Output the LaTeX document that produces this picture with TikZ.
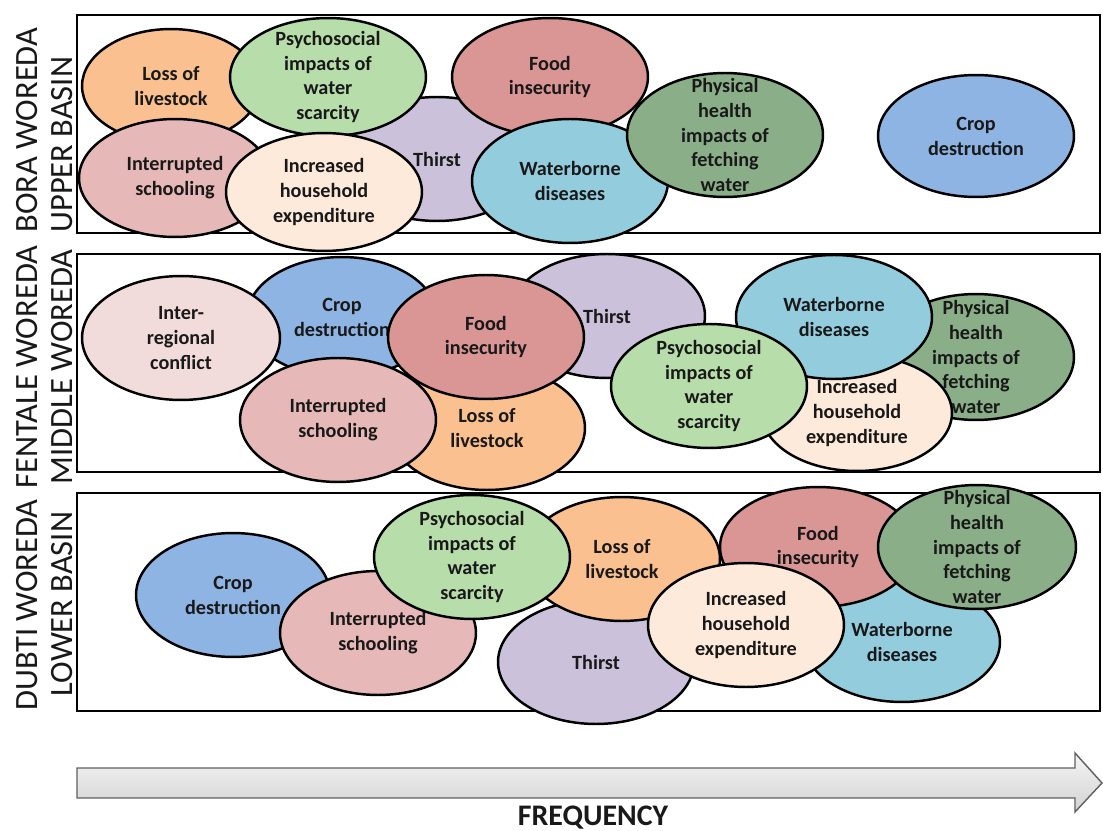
\documentclass[tikz,border=0pt]{standalone}
\usepackage{fontspec}
\setmainfont{Carlito}
\usetikzlibrary{shapes.geometric, positioning}

\definecolor{cLoss}{RGB}{250,192,143}
\definecolor{cPsych}{RGB}{183,222,170}
\definecolor{cFood}{RGB}{217,150,148}
\definecolor{cThirst}{RGB}{204,193,218}
\definecolor{cSchool}{RGB}{230,185,184}
\definecolor{cExpend}{RGB}{253,234,218}
\definecolor{cWater}{RGB}{147,205,221}
\definecolor{cPhys}{RGB}{138,175,136}
\definecolor{cCrop}{RGB}{142,180,227}
\definecolor{cConflict}{RGB}{242,220,219}

\begin{document}
\begin{tikzpicture}[
    x=0.02cm, y=-0.02cm,
    bubble/.style={ellipse, draw=black, line width=1.4pt, align=center,
      inner xsep=0pt, inner ysep=-24pt, text=black!90,
      minimum width=3.92cm, minimum height=2.48cm,
      font=\fontsize{11.5}{14.2}\selectfont\bfseries},
    size/.style 2 args={minimum width=#1*0.04cm, minimum height=#2*0.04cm},
    panel/.style={draw=black, line width=1.6pt},
    region/.style={font=\fontsize{18.5}{22}\selectfont, text=black!90, inner sep=0pt},
    freqarrow/.style={draw=gray!75!black, line width=0.8pt, top color=gray!8, bottom color=gray!35}
  ]
  \useasboundingbox (0,0) rectangle (1103,831);

  % panels
  \draw[panel] (77,15) rectangle (1100,233);
  \draw[panel] (77,254) rectangle (1100,472);
  \draw[panel] (77,493) rectangle (1100,711);

  \node[region, rotate=90, anchor=west] (boraA) at (27,233) {BORA WOREDA};
  \node[region, rotate=90, anchor=west] (boraB) at (62,233) {UPPER BASIN};
  \node[region, rotate=90] (fentA) at (27,367) {FENTALE WOREDA};
  \node[region, rotate=90] (fentB) at (62,367) {MIDDLE WOREDA};
  \node[region, rotate=90] (dubA) at (27,605) {DUBTI WOREDA};
  \node[region, rotate=90] (dubB) at (62,604) {LOWER BASIN};

  % upper basin
  \node[bubble, fill=cThirst] (upThirst) at (437,159) {Thirst};
  \node[bubble, fill=cLoss, size={89}{57}] (upLoss) at (171,86) {Loss of\\livestock};
  \node[bubble, fill=cPsych, size={98}{59}] (upPsych) at (328,77) {Psychosocial\\impacts of\\water\\scarcity};
  \node[bubble, fill=cSchool, size={96}{59}] (upSchool) at (175,178) {Interrupted\\schooling};
  \node[bubble, fill=cExpend, size={98}{59}] (upExpend) at (324,192) {Increased\\household\\expenditure};
  \node[bubble, fill=cFood, size={98}{59}] (upFood) at (550,77) {Food\\insecurity};
  \node[bubble, fill=cWater] (upWater) at (570,181) {Waterborne\\diseases};
  \node[bubble, fill=cPhys] (upPhys) at (725,135) {Physical\\health\\impacts of\\fetching\\water};
  \node[bubble, fill=cCrop, size={98}{61}] (upCrop) at (976,136) {Crop\\destruction};

  % middle woreda
  \node[bubble, fill=cPhys, size={98}{63}] (midPhys) at (976,357) {Physical\\health\\impacts of\\fetching\\water};
  \node[bubble, fill=cThirst] (midThirst) at (607,316) {Thirst};
  \node[bubble, fill=cCrop, size={95}{60}] (midCrop) at (342,317) {Crop\\destruction};
  \node[bubble, fill=cConflict, size={99}{62}] (midConflict) at (181,338) {Inter-\\regional\\conflict};
  \node[bubble, fill=cLoss] (midLoss) at (487,428) {Loss of\\livestock};
  \node[bubble, fill=cSchool] (midSchool) at (338,420) {Interrupted\\schooling};
  \node[bubble, fill=cFood] (midFood) at (486,337) {Food\\insecurity};
  \node[bubble, fill=cExpend, size={95}{58}] (midExpend) at (857,413) {Increased\\household\\expenditure};
  \node[bubble, fill=cWater] (midWater) at (834,317) {Waterborne\\diseases};
  \node[bubble, fill=cPsych] (midPsych) at (709,386) {Psychosocial\\impacts of\\water\\scarcity};

  % lower basin
  \node[bubble, fill=cCrop, size={97}{62}] (lowCrop) at (233,595) {Crop\\destruction};
  \node[bubble, fill=cSchool] (lowSchool) at (378,633) {Interrupted\\schooling};
  \node[bubble, fill=cThirst] (lowThirst) at (596,662) {Thirst};
  \node[bubble, fill=cLoss] (lowLoss) at (622,559) {Loss of\\livestock};
  \node[bubble, fill=cPsych] (lowPsych) at (472,557) {Psychosocial\\impacts of\\water\\scarcity};
  \node[bubble, fill=cWater, size={98}{60}] (lowWater) at (902,642) {Waterborne\\diseases};
  \node[bubble, fill=cFood, size={98}{60}] (lowFood) at (818,547) {Food\\insecurity};
  \node[bubble, fill=cExpend] (lowExpend) at (746,625) {Increased\\household\\expenditure};
  \node[bubble, fill=cPhys, size={99}{62}] (lowPhys) at (977,547) {Physical\\health\\impacts of\\fetching\\water};

  % frequency axis
  \draw[freqarrow] (77,768) -- (1075,768) -- (1075,753) -- (1102,783)
    -- (1075,812) -- (1075,798) -- (77,798) -- cycle;
  \node[region, font=\fontsize{17}{20}\selectfont\bfseries] (freq) at (593,818) {FREQUENCY};
\end{tikzpicture}
\end{document}
